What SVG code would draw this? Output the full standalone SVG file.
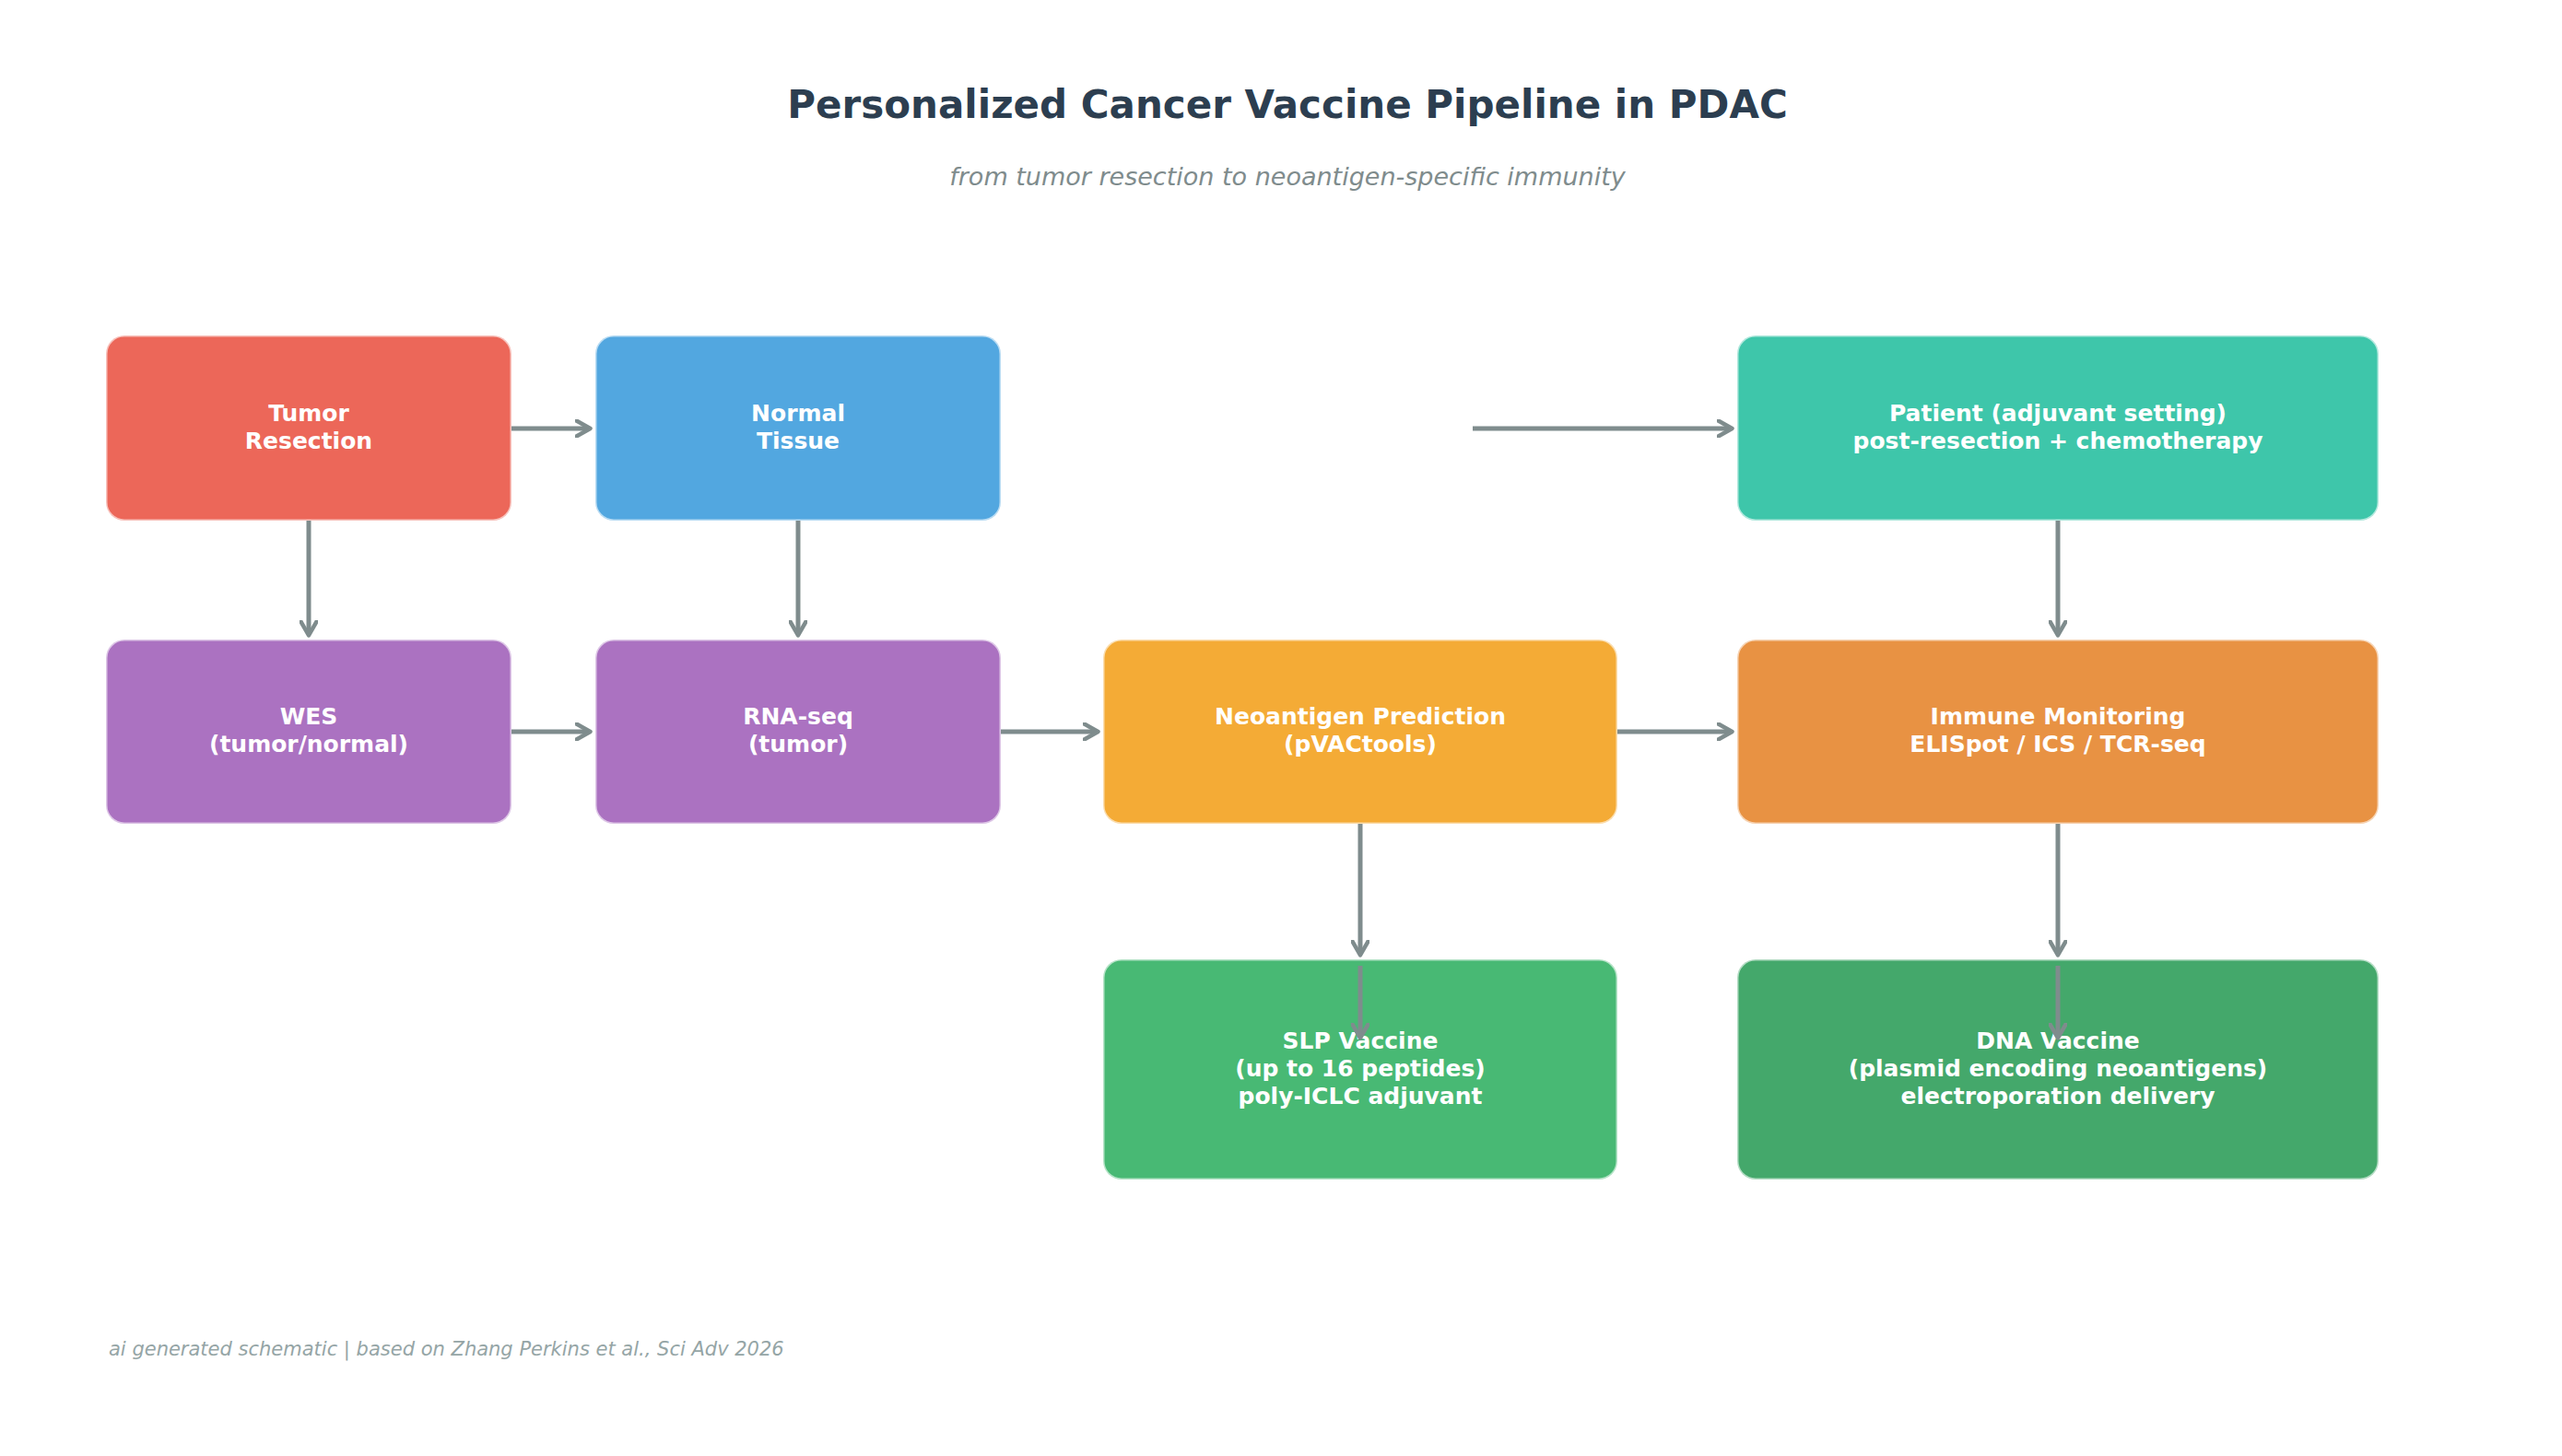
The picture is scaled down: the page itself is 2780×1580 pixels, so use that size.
<svg xmlns="http://www.w3.org/2000/svg" width="2780" height="1580" viewBox="0 0 2780 1580">
<defs>
<marker id="ah" markerWidth="4" markerHeight="4" refX="3.2" refY="2" orient="auto" markerUnits="strokeWidth"><path d="M0.3,0.3 L3.3,2 L0.3,3.7" fill="none" stroke="#7f8c8d" stroke-width="0.9" stroke-linecap="round" stroke-linejoin="round"/></marker>
</defs>
<style>
.box{stroke:#ffffff;stroke-opacity:0.6;stroke-width:3}
.t{font-family:"DejaVu Sans",sans-serif;font-weight:bold;font-size:25px;fill:#ffffff;text-anchor:middle}
.c{stroke:#7f8c8d;stroke-width:5;fill:none;marker-end:url(#ah)}
</style>
<rect width="2780" height="1580" fill="#ffffff"/>
<text x="1397" y="128" font-family="DejaVu Sans,sans-serif" font-weight="bold" font-size="42" fill="#2c3e50" text-anchor="middle">Personalized Cancer Vaccine Pipeline in PDAC</text>
<text x="1397" y="201" font-family="DejaVu Sans,sans-serif" font-style="italic" font-size="27" fill="#7f8c8d" text-anchor="middle">from tumor resection to neoantigen-specific immunity</text>
<text x="118" y="1471" font-family="DejaVu Sans,sans-serif" font-style="italic" font-size="21" fill="#95a5a6">ai generated schematic | based on Zhang Perkins et al., Sci Adv 2026</text>
<g id="tumor"><rect class="box" x="115" y="364" width="440" height="201" rx="20" fill="#ec6759"/><text class="t" x="335" y="457">Tumor</text><text class="t" x="335" y="487">Resection</text></g>
<g id="normal"><rect class="box" x="646" y="364" width="440" height="201" rx="20" fill="#52a7e0"/><text class="t" x="866" y="457">Normal</text><text class="t" x="866" y="487">Tissue</text></g>
<g id="patient"><rect class="box" x="1885" y="364" width="696" height="201" rx="20" fill="#3ec6aa"/><text class="t" x="2233" y="457">Patient (adjuvant setting)</text><text class="t" x="2233" y="487">post-resection + chemotherapy</text></g>
<g id="wes"><rect class="box" x="115" y="694" width="440" height="200" rx="20" fill="#ab72c1"/><text class="t" x="335" y="786">WES</text><text class="t" x="335" y="816">(tumor/normal)</text></g>
<g id="rnaseq"><rect class="box" x="646" y="694" width="440" height="200" rx="20" fill="#ab72c1"/><text class="t" x="866" y="786">RNA-seq</text><text class="t" x="866" y="816">(tumor)</text></g>
<g id="neo"><rect class="box" x="1197" y="694" width="558" height="200" rx="20" fill="#f4ab36"/><text class="t" x="1476" y="786">Neoantigen Prediction</text><text class="t" x="1476" y="816">(pVACtools)</text></g>
<g id="immune"><rect class="box" x="1885" y="694" width="696" height="200" rx="20" fill="#e89243"/><text class="t" x="2233" y="786">Immune Monitoring</text><text class="t" x="2233" y="816">ELISpot / ICS / TCR-seq</text></g>
<g id="slp"><rect class="box" x="1197" y="1041" width="558" height="239" rx="20" fill="#48b974"/><text class="t" x="1476" y="1138">SLP Vaccine</text><text class="t" x="1476" y="1168">(up to 16 peptides)</text><text class="t" x="1476" y="1198">poly-ICLC adjuvant</text></g>
<g id="dna"><rect class="box" x="1885" y="1041" width="696" height="239" rx="20" fill="#44a86b"/><text class="t" x="2233" y="1138">DNA Vaccine</text><text class="t" x="2233" y="1168">(plasmid encoding neoantigens)</text><text class="t" x="2233" y="1198">electroporation delivery</text></g>
<g id="connectors">
<line class="c" x1="555" y1="465" x2="640" y2="465"/>
<line class="c" x1="335" y1="565" x2="335" y2="689"/>
<line class="c" x1="866" y1="565" x2="866" y2="689"/>
<line class="c" x1="555" y1="794" x2="640" y2="794"/>
<line class="c" x1="1086" y1="794" x2="1191" y2="794"/>
<line class="c" x1="1755" y1="794" x2="1879" y2="794"/>
<line class="c" x1="1598" y1="465" x2="1879" y2="465"/>
<line class="c" x1="2233" y1="565" x2="2233" y2="689"/>
<line class="c" x1="1476" y1="894" x2="1476" y2="1036"/>
<line class="c" x1="2233" y1="894" x2="2233" y2="1036"/>
<line class="c" x1="1476" y1="1048" x2="1476" y2="1126"/>
<line class="c" x1="2233" y1="1048" x2="2233" y2="1126"/>
</g>
</svg>
